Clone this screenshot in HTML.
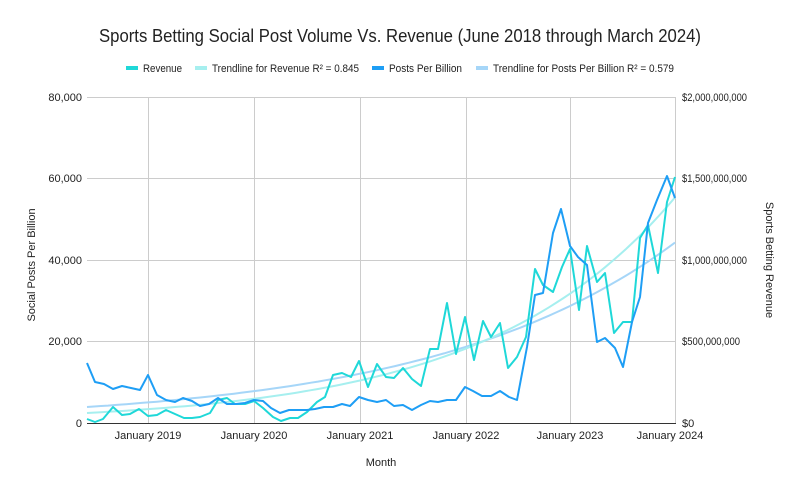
<!DOCTYPE html>
<html><head><style>
body{margin:0;background:#fff;font-family:"Liberation Sans",Arial,sans-serif;}
svg text{font-family:"Liberation Sans",Arial,sans-serif;fill:#222;}
</style></head><body>
<svg id="c" width="800" height="493" xmlns="http://www.w3.org/2000/svg">
<rect width="800" height="493" fill="#fff"/>
<text x="99" y="42" font-size="18" textLength="602" lengthAdjust="spacingAndGlyphs">Sports Betting Social Post Volume Vs. Revenue (June 2018 through March 2024)</text>
<g font-size="11">
<rect x="126" y="66" width="12" height="4" fill="#1fd8d8"/><text x="143" y="72" textLength="39" lengthAdjust="spacingAndGlyphs">Revenue</text>
<rect x="195" y="66" width="12" height="4" fill="#a6efef"/><text x="212" y="72" textLength="147" lengthAdjust="spacingAndGlyphs">Trendline for Revenue R² = 0.845</text>
<rect x="372" y="66" width="12" height="4" fill="#1e9ef5"/><text x="389" y="72" textLength="73" lengthAdjust="spacingAndGlyphs">Posts Per Billion</text>
<rect x="476" y="66" width="12" height="4" fill="#a6d6f8"/><text x="493" y="72" textLength="181" lengthAdjust="spacingAndGlyphs">Trendline for Posts Per Billion R² = 0.579</text>
</g>
<g stroke="#ccc" stroke-width="1">
<line x1="87" x2="676" y1="97.5" y2="97.5"/><line x1="87" x2="676" y1="178.5" y2="178.5"/>
<line x1="87" x2="676" y1="260.5" y2="260.5"/><line x1="87" x2="676" y1="341.5" y2="341.5"/>
<line x1="148.5" x2="148.5" y1="97" y2="423"/><line x1="254.5" x2="254.5" y1="97" y2="423"/>
<line x1="360.5" x2="360.5" y1="97" y2="423"/><line x1="466.5" x2="466.5" y1="97" y2="423"/>
<line x1="570.5" x2="570.5" y1="97" y2="423"/><line x1="675.5" x2="675.5" y1="97" y2="423"/>
</g>
<line x1="87" x2="676" y1="423.5" y2="423.5" stroke="#333"/>
<g font-size="11" text-anchor="end">
<text x="82" y="101">80,000</text><text x="82" y="182">60,000</text><text x="82" y="264">40,000</text><text x="82" y="345">20,000</text><text x="82" y="427">0</text>
</g>
<g font-size="11" text-anchor="start">
<text x="682" y="101" textLength="65" lengthAdjust="spacingAndGlyphs">$2,000,000,000</text><text x="682" y="182" textLength="65" lengthAdjust="spacingAndGlyphs">$1,500,000,000</text><text x="682" y="264" textLength="65" lengthAdjust="spacingAndGlyphs">$1,000,000,000</text><text x="682" y="345" textLength="58" lengthAdjust="spacingAndGlyphs">$500,000,000</text><text x="682" y="427">$0</text>
</g>
<g font-size="11" text-anchor="middle">
<text x="148" y="439">January 2019</text><text x="254" y="439">January 2020</text><text x="360" y="439">January 2021</text><text x="466" y="439">January 2022</text><text x="570" y="439">January 2023</text><text x="670" y="439">January 2024</text>
<text x="381" y="466">Month</text>
</g>
<text font-size="11" text-anchor="middle" transform="translate(35,265) rotate(-90)">Social Posts Per Billion</text>
<text font-size="11" text-anchor="middle" transform="translate(766,260) rotate(90)">Sports Betting Revenue</text>
<path id="tp" fill="none" stroke="#a6d6f8" stroke-width="2"/>
<path id="tr" fill="none" stroke="#a6efef" stroke-width="2"/>
<polyline fill="none" stroke="#1fd8d8" stroke-width="2" stroke-linejoin="round" points="87,419 95,422 103,419 113,407 122,415 130,414 139,409 148,416 157,415 166,410 175,414 184,418 192,418 200,417 210,413 218,400 227,398 235,404 245,404 254,401 263,408 273,417 281,421 290,418 298,418 307,412 317,402 325,397 333,375 342,373 351,377 359,361 368,387 377,364 386,377 394,378 403,368 412,379 421,386 430,349 438,349 447,303 456,354 465,317 474,360 483,321 491,337 500,323 508,368 517,357 526,337 535,269 543,285 553,292 562,267 570,249 579,310 587,246 597,282 605,273 614,333 623,322 632,322 640,238 648,225 658,273 667,202 675,177"/>
<polyline fill="none" stroke="#1e9ef5" stroke-width="2" stroke-linejoin="round" points="87,363 95,382 104,384 113,389 122,386 131,388 140,390 148,375 157,395 166,400 175,402 183,398 192,401 200,406 209,404 218,398 227,404 236,404 245,403 254,400 263,401 271,408 280,413 289,410 298,410 307,410 315,409 324,407 333,407 342,404 350,406 359,397 368,400 377,402 386,400 394,406 403,405 412,410 421,405 430,401 438,402 447,400 456,400 465,387 473,391 482,396 491,396 500,391 509,397 517,400 527,347 535,295 543,293 553,233 561,209 570,246 578,257 587,265 597,342 605,338 615,348 623,367 632,322 640,297 648,223 657,200 667,176 675,198"/>
<script>
function ep(a,b){var d="";for(var x=87;x<=676;x+=7){var y=423-a*Math.exp(b*(x-87));d+=(d?"L":"M")+x+","+y.toFixed(1);}return d;}
document.getElementById("tp").setAttribute("d",ep(16,0.00412));
document.getElementById("tr").setAttribute("d",ep(10,0.0053));
</script>
</svg>
</body></html>
